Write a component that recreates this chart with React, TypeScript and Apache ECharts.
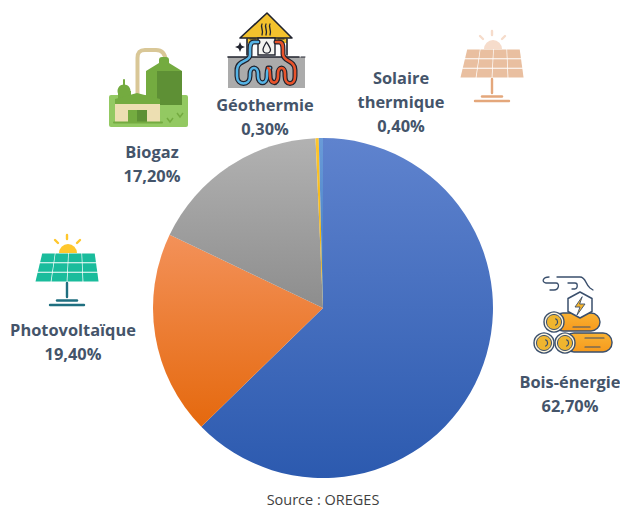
import React, { useEffect, useRef } from "react";
import * as echarts from "echarts";

const categories = ["Bois-énergie", "Photovoltaïque", "Biogaz", "Géothermie", "Solaire\nthermique"];
const values = [62.7, 19.4, 17.2, 0.3, 0.4];
const sourceText = "Source : OREGES";

const sliceStops = [
  ["#5F83CE", "#2C5AAF"],
  ["#F39159", "#E5690E"],
  ["#B2B2B2", "#8D8D8D"],
  ["#FFC62E", "#E8A800"],
  ["#6A9BD8", "#3A78C0"],
];
const sliceBands = [
  [138, 478],
  [235, 425],
  [138, 308],
  [138, 308],
  [138, 308],
];
const labelCentres = [
  [570, 393],
  [73, 341],
  [152, 163],
  [265, 116],
  [401, 101],
];

const shapes: Record<string, string> = {
  bgPipe: "M137.5 96 V58 C137.5 52 140 50 145 50 H156 C162 50 165 53 165.5 60",
  geoBlue: "M258 42 H254 C250 42 250 46 250 50 V55 C250 62 237 60 237 70 V76 C237 86 250 86 250 76 V74 C250 66 258 66 258 74 V76 C258 85 267 85 267 76 V74 C267 70 268 68 270 68",
  geoRed: "M276 42 H279 C283 42 283 46 283 50 V54 C283 62 295 60 295 70 V76 C295 86 285 86 285 76 V74 C285 66 278 66 278 74 V76 C278 85 270 85 270 75 C270 71 269 68 268 68",
  steam1: "M262 24 C260 27 264 30 262 35",
  steam2: "M266 24 C264 27 268 30 266 35",
  steam3: "M270 24 C268 27 272 30 270 35",
  drop: "M266.5 42 C264 46 263 48 263 50 A3.8 3.8 0 0 0 270.5 50 C270.5 48 269 46 266.5 42 Z",
  smoke1: "M549 277 C543 277 541 282 546 283 H556 C560 283 559 290 554 290 H550",
  smoke2: "M557 277 H580 C586 277 585 284 590 288 L593 290",
  smoke3: "M568 283 H575 C578 283 578 288 575 289 H572",
  bolt: "M583 297 L576 307 H581 L578 315 L586 304 H581 Z",
};
Object.keys(shapes).forEach((k) => {
  echarts.graphic.registerShape(k, echarts.graphic.extendPath(shapes[k], {}));
});

const rect = (x: number, y: number, w: number, h: number, fill: any, r = 0, stroke?: string, lw = 0) => ({
  type: "rect", shape: { x, y, width: w, height: h, r }, style: { fill, stroke, lineWidth: lw }, silent: true,
});
const poly = (points: number[][], fill: string, stroke?: string, lw = 0) => ({
  type: "polygon", shape: { points }, style: { fill, stroke, lineWidth: lw, lineJoin: "round" }, silent: true,
});
const seg = (x1: number, y1: number, x2: number, y2: number, stroke: string, lw: number) => ({
  type: "line", shape: { x1, y1, x2, y2 }, style: { stroke, lineWidth: lw, lineCap: "round" }, silent: true,
});
const circ = (cx: number, cy: number, r: number, fill: string, stroke?: string, lw = 0) => ({
  type: "circle", shape: { cx, cy, r }, style: { fill, stroke, lineWidth: lw }, silent: true,
});
const stroked = (type: string, stroke: string, lw: number, fill = "none") => ({
  type, x: 0, y: 0, style: { stroke, lineWidth: lw, fill, lineCap: "round", lineJoin: "round" }, silent: true,
});

function solar(dx: number, dy: number, panel: string, sun: string, post: string) {
  const out: any[] = [];
  out.push({
    type: "sector",
    shape: { cx: 68 + dx, cy: 253 + dy, r: 9, r0: 0, startAngle: Math.PI, endAngle: 2 * Math.PI },
    style: { fill: sun }, silent: true,
  });
  out.push(seg(67 + dx, 235 + dy, 67 + dx, 239 + dy, sun, 2.4));
  out.push(seg(55 + dx, 240 + dy, 58 + dx, 243 + dy, sun, 2.4));
  out.push(seg(80 + dx, 240 + dy, 77 + dx, 243 + dy, sun, 2.4));
  const top = 253, bot = 282, tl = 42, tr = 95, bl = 35, br = 99;
  for (let r = 0; r < 3; r++) {
    for (let c = 0; c < 4; c++) {
      const y0 = top + ((bot - top) * r) / 3 + 0.5;
      const y1 = top + ((bot - top) * (r + 1)) / 3 - 0.5;
      const xAt = (y: number, t: number) => {
        const f = (y - top) / (bot - top);
        const a = tl + (bl - tl) * f, b = tr + (br - tr) * f;
        return a + (b - a) * t;
      };
      const t0 = c / 4 + 0.006, t1 = (c + 1) / 4 - 0.006;
      out.push(poly([
        [xAt(y0, t0) + dx, y0 + dy], [xAt(y0, t1) + dx, y0 + dy],
        [xAt(y1, t1) + dx, y1 + dy], [xAt(y1, t0) + dx, y1 + dy],
      ], panel));
    }
  }
  out.push(seg(67 + dx, 283 + dy, 67 + dx, 297 + dy, post, 2.4));
  out.push(seg(57 + dx, 300.5 + dy, 77 + dx, 300.5 + dy, post, 2.4));
  out.push(seg(50 + dx, 305 + dy, 84 + dx, 305 + dy, post, 2.4));
  return out;
}

function biogaz() {
  const light = "#93C962", mid = "#74AB40", dark = "#5E9035", beige = "#EDDFB2";
  return [
    rect(109, 95, 79, 32, light, 2),
    stroked("bgPipe", "#D9C797", 4),
    rect(159, 57, 10, 9, mid, 3),
    poly([[146, 71], [159, 63], [169, 63], [182, 71]], mid),
    rect(146, 71, 36, 34, dark),
    rect(146, 71, 11, 34, mid),
    seg(124, 80, 124, 86, mid, 2),
    circ(124, 91, 6.5, mid),
    rect(118, 91, 13, 8, mid),
    poly([[115, 104], [115, 99], [137, 93], [160, 99], [160, 104]], mid),
    rect(115, 104, 45, 18, beige),
    rect(128, 110, 19, 12, mid),
    rect(137, 110, 10, 12, dark),
    seg(114, 122.5, 162, 122.5, mid, 2),
    { type: "polyline", shape: { points: [[167, 118], [170, 122], [173, 118]] }, style: { stroke: mid, lineWidth: 1.5, fill: "none" }, silent: true },
    { type: "polyline", shape: { points: [[177, 113], [180, 117], [183, 113]] }, style: { stroke: mid, lineWidth: 1.5, fill: "none" }, silent: true },
  ];
}

function geo() {
  const ink = "#20232E";
  return [
    rect(228, 57, 77, 31, "#ABABAB"),
    rect(247, 39, 40, 18, "#FBFBFB"),
    rect(247, 38, 40, 5, "#F3C22D"),
    poly([[267, 13], [240, 38], [292, 38]], "#F3C22D", ink, 1.6),
    seg(247, 39, 247, 55, ink, 1.6),
    seg(287, 39, 287, 55, ink, 1.6),
    seg(228, 57, 299, 57, ink, 1.6),
    seg(301, 57, 305, 57, ink, 1),
    rect(258, 38, 17, 17, "#F4F4F0", 0, ink, 1.4),
    stroked("drop", ink, 1.3, "#F4F4F0"),
    stroked("steam1", ink, 1.3),
    stroked("steam2", ink, 1.3),
    stroked("steam3", ink, 1.3),
    seg(250, 39, 256, 39, ink, 1.2),
    seg(278, 39, 284, 39, ink, 1.2),
    poly([[240, 42], [242, 47], [240, 52], [238, 47]], ink),
    poly([[235, 47], [240, 45], [245, 47], [240, 49]], ink),
    stroked("geoBlue", ink, 5),
    stroked("geoRed", ink, 5),
    stroked("geoBlue", "#56B4E6", 2.6),
    stroked("geoRed", "#E8532B", 2.6),
  ];
}

function logs() {
  const ink = "#3A4F6C";
  const bodyFill = {
    type: "linear", x: 0, y: 0, x2: 0, y2: 1,
    colorStops: [{ offset: 0, color: "#F9B233" }, { offset: 1, color: "#F79A1C" }],
  };
  const cap = (cx: number, cy: number) => [
    circ(cx, cy, 10, "#FFF6DE", ink, 1.4),
    circ(cx, cy, 7.5, "#EFB52F", ink, 1),
    { type: "arc", shape: { cx, cy, r: 3.6, startAngle: -1.2, endAngle: 1.2, clockwise: true }, style: { stroke: ink, lineWidth: 1.2, fill: "none" }, silent: true },
  ];
  return [
    rect(554, 313, 46, 18, bodyFill, 9, ink, 1.4),
    ...cap(554, 322),
    seg(573, 327, 590, 327, ink, 1.2),
    rect(565, 333, 47, 19, bodyFill, 9, ink, 1.4),
    ...cap(544, 343),
    ...cap(565, 343),
    seg(585, 338, 604, 338, ink, 1.2),
    seg(585, 347, 600, 347, ink, 1.2),
    poly([[580, 292], [592, 298.5], [592, 311.5], [580, 318], [568, 311.5], [568, 298.5]], "#FFFFFF", ink, 1.5),
    { ...stroked("bolt", ink, 0.9, "#F6B42C"), x: -1 },
    stroked("smoke1", ink, 1.3),
    stroked("smoke2", ink, 1.3),
    stroked("smoke3", ink, 1.3),
  ];
}

export default function App() {
  const ref = useRef<HTMLDivElement>(null);
  useEffect(() => {
    const chart = echarts.init(ref.current!, undefined, { renderer: "svg" });
    chart.setOption({
      animation: false,
      backgroundColor: "#FFFFFF",
      title: {
        text: sourceText,
        left: 323,
        top: 491,
        textAlign: "center",
        padding: 0,
        textStyle: { fontFamily: "Open Sans", fontSize: 14.5, fontWeight: "normal", color: "#3F3F3F", lineHeight: 16 },
      },
      graphic: {
        elements: [
          ...biogaz(),
          ...geo(),
          ...solar(0, 0, "#1ABC9C", "#FFC72C", "#1F6F80"),
          ...solar(425, -204, "#E9BFA0", "#F6DCCB", "#E4A77B"),
          ...logs(),
        ],
      },
      series: [
        {
          type: "pie",
          center: [323, 308],
          radius: [0, 170],
          startAngle: 90,
          clockwise: true,
          avoidLabelOverlap: false,
          data: categories.map((name, i) => ({
            name,
            value: values[i],
            itemStyle: {
              color: {
                type: "linear", x: 0, y: sliceBands[i][0], x2: 0, y2: sliceBands[i][1], global: true,
                colorStops: [
                  { offset: 0, color: sliceStops[i][0] },
                  { offset: 1, color: sliceStops[i][1] },
                ],
              },
            },
          })),
          labelLine: { show: false },
          label: {
            show: true,
            position: "outside",
            formatter: (p: any) => `${p.name}\n${p.value.toFixed(2).replace(".", ",")}%`,
            fontFamily: "Open Sans",
            fontWeight: "bold",
            fontSize: 16.4,
            lineHeight: 24,
            color: "#44546A",
            align: "center",
          },
          labelLayout: (p: any) => ({
            x: labelCentres[p.dataIndex][0],
            y: labelCentres[p.dataIndex][1],
            align: "center",
            verticalAlign: "middle",
            hideOverlap: false,
          }),
          emphasis: { disabled: true },
        },
      ],
    });
    return () => chart.dispose();
  }, []);
  return <div ref={ref} style={{ position: "fixed", left: 0, top: 0, width: 620, height: 507 }} />;
}
